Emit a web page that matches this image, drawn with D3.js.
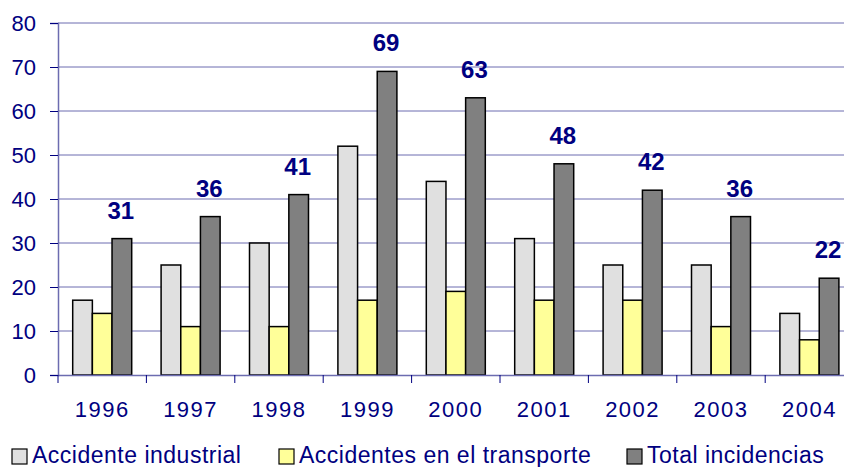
<!DOCTYPE html>
<html><head><meta charset="utf-8">
<script src="https://cdn.jsdelivr.net/npm/d3@7"></script>
<style>body{margin:0;background:#fff}svg{display:block}</style>
</head><body>
<svg id="c" width="844" height="467"></svg>
<script>
const years = ["1996","1997","1998","1999","2000","2001","2002","2003","2004"];
const industrial = [17,25,30,52,44,31,25,25,14];
const transporte = [14,11,11,17,19,17,17,11,8];
const total = [31,36,41,69,63,48,42,36,22];
const seriesNames = ["Accidente industrial","Accidentes en el transporte","Total incidencias"];
const yTicks = [0,10,20,30,40,50,60,70,80];

const colors = ["#e0e0e0","#ffff99","#808080"];
const navy = "#000080";
const gridColor = "#6c6cb0";
const font = "Liberation Sans, Arial, sans-serif";

const svg = d3.select("#c");
const mLeft = 58, mTop = 23, mBottom = 375;
const x = d3.scaleBand().domain(years).range([mLeft, mLeft + 9*88.4]).paddingInner(0).paddingOuter(0);
const y = d3.scaleLinear().domain([0,80]).range([mBottom, mTop]);
const groupW = 59;
const xs = d3.scaleBand().domain([0,1,2]).range([0, groupW]).padding(0);

// gridlines
svg.append("g").selectAll("line").data(yTicks.filter(d=>d>0)).join("line")
  .attr("x1", mLeft).attr("x2", 844).attr("y1", d=>y(d)).attr("y2", d=>y(d))
  .attr("stroke", gridColor).attr("stroke-width", 1);

// y axis
const yAxis = svg.append("g").attr("transform", `translate(${mLeft},0)`)
  .call(d3.axisLeft(y).tickValues(yTicks).tickSize(8).tickPadding(14));
yAxis.select(".domain").attr("stroke", gridColor).attr("stroke-width", 1.5);
yAxis.selectAll(".tick line").attr("stroke", navy).attr("stroke-width", 1);
yAxis.selectAll("text").attr("fill", navy).style("font-family", font).style("font-size", "22px");

// bars
const data = years.map((yr,i)=>({yr, vals:[industrial[i], transporte[i], total[i]]}));
const groups = svg.append("g").selectAll("g").data(data).join("g")
  .attr("transform", d=>`translate(${x(d.yr) + (x.bandwidth()-groupW)/2},0)`);
groups.selectAll("rect").data(d=>d.vals.map((v,k)=>({v,k}))).join("rect")
  .attr("x", d=>xs(d.k)).attr("width", xs.bandwidth())
  .attr("y", d=>y(d.v)).attr("height", d=>mBottom - y(d.v))
  .attr("fill", d=>colors[d.k]).attr("stroke", "#000").attr("stroke-width", 1.5);

// data labels on totals
groups.append("text")
  .attr("x", xs(2) + xs.bandwidth()/2 - 1)
  .attr("y", d=>y(d.vals[2]) - 20)
  .attr("text-anchor", "middle")
  .attr("fill", navy).style("font-family", font).style("font-size", "24px").style("font-weight", "bold")
  .text(d=>d.vals[2]);

// x axis
const xAxis = svg.append("g").attr("transform", `translate(0,${mBottom})`)
  .call(d3.axisBottom(x).tickSize(0).tickPadding(26));
xAxis.select(".domain").attr("stroke", gridColor).attr("stroke-width", 1.5);
xAxis.selectAll("text").attr("fill", navy).style("font-family", font).style("font-size", "22px").style("letter-spacing", "1.5px");
// category separators
svg.append("g").selectAll("line").data(years).join("line")
  .attr("x1", d=>x(d)).attr("x2", d=>x(d)).attr("y1", mBottom).attr("y2", mBottom+8)
  .attr("stroke", navy).attr("stroke-width", 1);

// legend
const legX = [12, 279, 627];
const leg = svg.append("g").selectAll("g").data(seriesNames).join("g")
  .attr("transform", (d,i)=>`translate(${legX[i]},449)`);
leg.append("rect").attr("width", 15).attr("height", 15)
  .attr("fill", (d,i)=>colors[i]).attr("stroke", "#000").attr("stroke-width", 1.2);
leg.append("text").attr("x", 20).attr("y", 14)
  .attr("fill", navy).style("font-family", font).style("font-size", "23px").style("letter-spacing", "0.5px")
  .text(d=>d);
</script>
</body></html>
